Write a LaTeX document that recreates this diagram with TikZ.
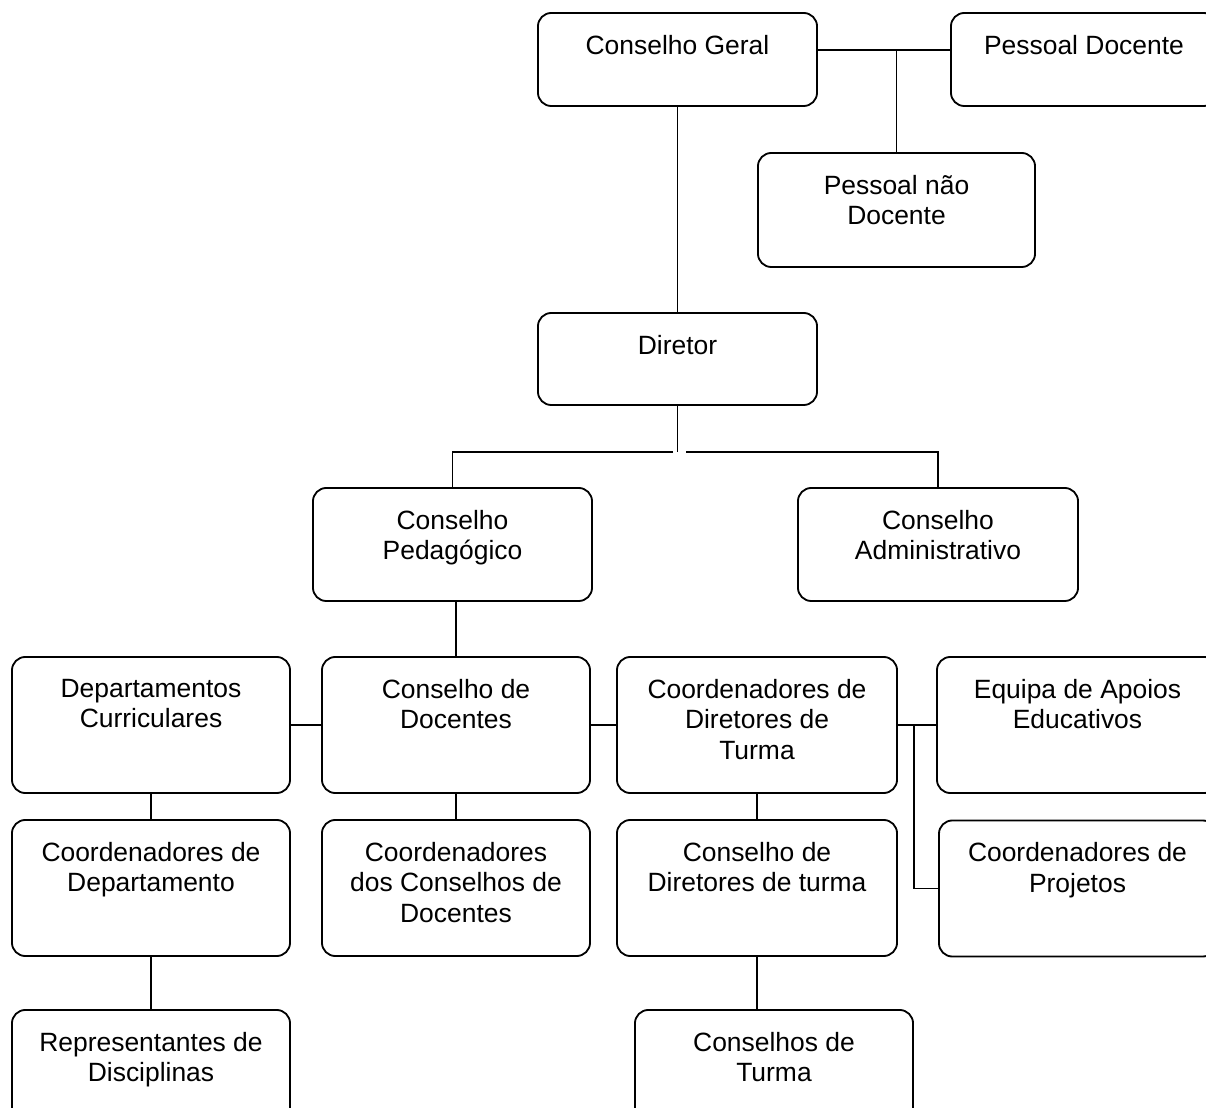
\documentclass[tikz,border=0pt]{standalone}
\usepackage{fontspec}
\setmainfont{Liberation Sans}
\usepackage{tikz}
\usetikzlibrary{positioning}

\tikzset{
	box/.style={draw, line width=1.3pt, rounded corners=9.5pt, inner sep=0pt,
		minimum width=6.975cm, minimum height=3.4cm},
	txt/.style={anchor=north, yshift=-16pt, inner sep=0pt, align=center,
		font=\fontsize{18.8}{22}\selectfont},
	link/.style={line width=1.3pt}
}

\begin{document}
\begin{tikzpicture}[x=0.025cm, y=-0.025cm]
		% Page frame
		\clip (0, 0) rectangle (1206, 1108);
		
		% Top level
		\node[box, minimum height=2.325cm, label={[txt]north:Conselho Geral}] (cg) at (677.5, 59.5) {};
		\node[box, minimum width=6.65cm, minimum height=2.325cm, label={[txt]north:Pessoal Docente}] (pd) at (1084, 59.5) {};
		\node[box, minimum width=6.925cm, minimum height=2.85cm, label={[txt]north:Pessoal não\\Docente}] (pnd) at (896.5, 210) {};
		\node[box, minimum height=2.3cm, label={[txt]north:Diretor}] (dir) at (677.5, 359) {};
		
		% Councils
		\node[box, minimum height=2.825cm, label={[txt]north:Conselho\\Pedagógico}] (cp) at (452.5, 544.5) {};
		\node[box, minimum width=7cm, minimum height=2.825cm, label={[txt]north:Conselho\\Administrativo}] (ca) at (938, 544.5) {};
		
		% Middle row
		\node[box, minimum width=6.95cm, label={[txt]north:Departamentos\\Curriculares}] (dc) at (151, 725) {};
		\node[box, minimum width=6.7cm, label={[txt]north:Conselho de\\Docentes}] (cd) at (456, 725) {};
		\node[box, minimum width=7cm, label={[txt]north:Coordenadores de\\Diretores de\\Turma}] (cdt) at (757, 725) {};
		\node[box, minimum width=7.025cm, label={[txt]north:Equipa de Apoios\\Educativos}] (eae) at (1077.5, 725) {};
		
		% Lower row
		\node[box, minimum width=6.95cm, label={[txt]north:Coordenadores de\\Departamento}] (cdep) at (151, 888) {};
		\node[box, minimum width=6.7cm, label={[txt]north:Coordenadores\\dos Conselhos de\\Docentes}] (ccd) at (456, 888) {};
		\node[box, minimum width=7cm, label={[txt]north:Conselho de\\Diretores de turma}] (cndt) at (757, 888) {};
		\node[box, minimum width=6.925cm, label={[txt]north:Coordenadores de\\Projetos}] (cpj) at (1077.5, 888.5) {};
		
		% Bottom row
		\node[box, minimum width=6.95cm, label={[txt]north:Representantes de\\Disciplinas}] (rd) at (151, 1078) {};
		\node[box, minimum width=6.95cm, label={[txt]north:Conselhos de\\Turma}] (ct) at (774, 1078) {};
		
		% Junctions
		\coordinate (jg) at (896.5, 50);
		\coordinate (jdl) at (673, 452);
		\coordinate (jdr) at (686, 452);
		\coordinate (jd) at (677.5, 452);
		\coordinate (jp) at (914, 725);
		
		% Connectors
		\draw[link] (cg.east |- jg) -- (pd.west |- jg);
		\draw[link] (jg) -- (pnd.north);
		\draw[link] (cg.south) -- (dir.north);
		\draw[link] (dir.south) -- (jd);
		\draw[link] (jdl) -| (cp.north);
		\draw[link] (jdr) -| (ca.north);
		\draw[link] (cd.north |- cp.south) -- (cd.north);
		\draw[link] (dc.east) -- (cd.west);
		\draw[link] (cd.east) -- (cdt.west);
		\draw[link] (cdt.east) -- (eae.west);
		\draw[link] (jp) |- (cpj.west);
		\draw[link] (dc.south) -- (cdep.north);
		\draw[link] (cd.south) -- (ccd.north);
		\draw[link] (cdt.south) -- (cndt.north);
		\draw[link] (cdep.south) -- (rd.north);
		\draw[link] (cndt.south) -- (cndt.south |- ct.north);
	\end{tikzpicture}
\end{document}
